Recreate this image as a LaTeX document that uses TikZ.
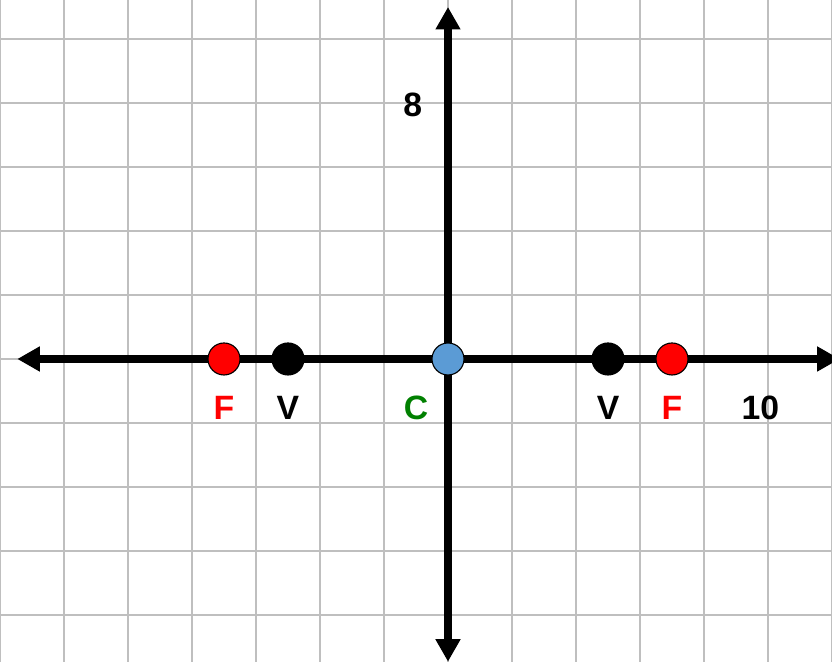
\documentclass[tikz,border=0pt]{standalone}
\usepackage{fontspec}
\setmainfont{Liberation Sans}
\usepackage{xcolor}
\usepackage{tikz}
\usetikzlibrary{arrows.meta, positioning}

\definecolor{focusred}{RGB}{255,0,0}
\definecolor{centergreen}{RGB}{0,128,0}
\definecolor{centerblue}{RGB}{91,155,213}

\begin{document}
\begin{tikzpicture}[
    gridline/.style={draw=black!25, line width=0.7pt},
    axisline/.style={{Triangle[length=10pt,width=10.5pt]}-{Triangle[length=10pt,width=10.5pt]}, line width=3.2pt},
    dotmark/.style={circle, draw=black, line width=0.5pt, minimum size=0.5cm, inner sep=0pt},
    marklabel/.style={font=\fontsize{15}{18}\selectfont\bfseries, inner sep=0pt}]
    \useasboundingbox (-7,-4.734) rectangle (6,5.609);
    \draw[gridline, step=1] (-7,-4.734) grid (6,5.609);
    % axes
    \coordinate (xleft) at (-6.73,0);
    \coordinate (xright) at (6.12,0);
    \coordinate (ytop) at (0,5.5);
    \coordinate (ybottom) at (0,-4.73);
    \draw[axisline] (xleft) -- (xright);
    \draw[axisline] (ybottom) -- (ytop);
    % foci, vertices and center
    \node[dotmark, fill=focusred] (focusleft) at (-3.5,0) {};
    \node[dotmark, fill=black] (vertexleft) at (-2.5,0) {};
    \node[dotmark, fill=centerblue] (center) at (0,0) {};
    \node[dotmark, fill=black] (vertexright) at (2.5,0) {};
    \node[dotmark, fill=focusred] (focusright) at (3.5,0) {};
    \node[marklabel, text=focusred] (flabelleft) at (-3.5,-0.77) {F};
    \node[marklabel] (vlabelleft) at (-2.5,-0.77) {V};
    \node[marklabel, text=centergreen] (clabel) at (-0.5,-0.77) {C};
    \node[marklabel] (vlabelright) at (2.5,-0.77) {V};
    \node[marklabel, text=focusred] (flabelright) at (3.5,-0.77) {F};
    \node[marklabel] (xtick) at (4.88,-0.77) {10};
    \node[marklabel] (ytick) at (-0.55,3.97) {8};
\end{tikzpicture}
\end{document}
